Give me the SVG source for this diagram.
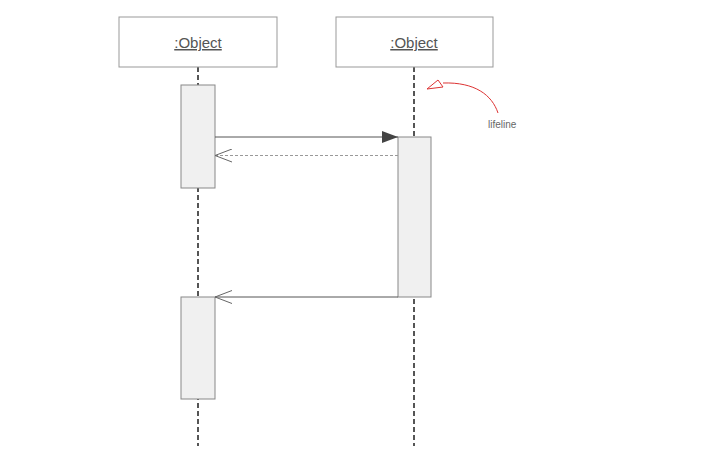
<svg xmlns="http://www.w3.org/2000/svg" width="727" height="462" viewBox="0 0 727 462">
<style>
.obj{fill:#fff;stroke:#999;stroke-width:1}
.lbl{font-family:"Liberation Sans",Arial,sans-serif;font-size:15px;fill:#555;text-decoration:underline;text-anchor:middle}
.life{stroke:#555;stroke-width:2;stroke-dasharray:5,3;fill:none}
.act{fill:#f0f0f0;stroke:#888;stroke-width:1}
.msg{stroke:#555;stroke-width:1;fill:none}
.ret{stroke:#999;stroke-width:1;stroke-dasharray:3,2;fill:none}
</style>
<defs>
<marker id="filled" markerWidth="16" markerHeight="12" refX="16" refY="6" orient="auto" markerUnits="userSpaceOnUse">
<path d="M0,0 L16,6 L0,12 Z" fill="#444"/>
</marker>
<marker id="open" markerWidth="18" markerHeight="14" refX="17" refY="7" orient="auto" markerUnits="userSpaceOnUse">
<path d="M0,0.5 L17,7 L0,13.5" fill="none" stroke="#666" stroke-width="1"/>
</marker>
</defs>
<rect width="727" height="462" fill="#fff"/>
<g id="lifelines">
<line class="life" x1="198" y1="67" x2="198" y2="446"/>
<line class="life" x1="414" y1="67" x2="414" y2="446"/>
</g>
<g id="obj1">
<rect class="obj" x="119" y="17" width="158" height="50"/>
<text class="lbl" x="198" y="48">:Object</text>
</g>
<g id="obj2">
<rect class="obj" x="336" y="17" width="157" height="50"/>
<text class="lbl" x="414" y="48">:Object</text>
</g>
<g id="act1"><rect class="act" x="181" y="85" width="34" height="103"/></g>
<g id="act2"><rect class="act" x="398" y="137" width="33" height="160"/></g>
<g id="act3"><rect class="act" x="181" y="297" width="34" height="102"/></g>
<g id="connectors">
<line class="msg" x1="215" y1="137" x2="398" y2="137" marker-end="url(#filled)"/>
<line class="ret" x1="398" y1="155.5" x2="215" y2="155.5" marker-end="url(#open)"/>
<line class="msg" x1="398" y1="297" x2="215" y2="297" marker-end="url(#open)" stroke="#777"/>
</g>
<g id="note">
<path d="M498,113 C492,95 475,82 443,83" fill="none" stroke="#d33" stroke-width="1"/>
<path d="M427,89 L438,80 L443,87 Z" fill="#fff" stroke="#d33" stroke-width="1"/>
<text x="488" y="128" font-family="'Liberation Sans',Arial,sans-serif" font-size="10" fill="#666">lifeline</text>
</g>
</svg>
